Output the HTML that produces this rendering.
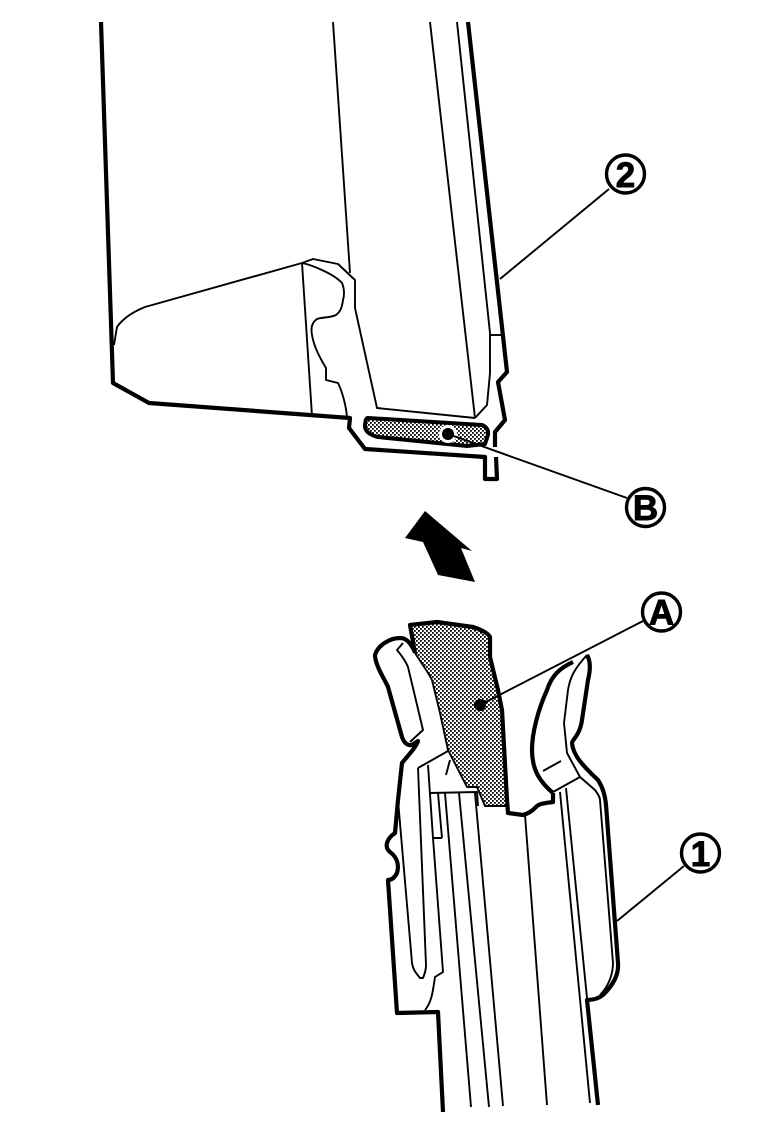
<!DOCTYPE html>
<html>
<head>
<meta charset="utf-8">
<style>
html,body{margin:0;padding:0;background:#fff;}
svg{display:block;}
text{font-family:"Liberation Sans",sans-serif;font-weight:bold;fill:#000;stroke:#000;stroke-width:0.9;text-anchor:middle;}
.k{fill:none;stroke:#000;stroke-width:4.2;stroke-linejoin:round;stroke-linecap:butt;}
.t{fill:none;stroke:#000;stroke-width:1.9;stroke-linejoin:round;}
.c{fill:#fff;stroke:#000;stroke-width:3.4;}
</style>
</head>
<body>
<svg width="768" height="1123" viewBox="0 0 768 1123" xmlns="http://www.w3.org/2000/svg">
<defs>
<pattern id="h" width="4" height="4" patternUnits="userSpaceOnUse">
<rect width="4" height="4" fill="#fff"/>
<rect x="0" y="0" width="1.8" height="1.8" fill="#000"/>
<rect x="2" y="2" width="1.8" height="1.8" fill="#000"/>
</pattern>
</defs>

<!-- TOP PART -->
<path class="k" d="M101,22 L113,383 L149,403 L350,418 L349,428 L365,449 L485,457 L485,479 L497,479 L496,457"/>
<path class="k" d="M495,447 L495,432 L505,420 L498,382 L507,372 L468,22"/>
<path class="t" d="M333,22 L350,273"/>
<path class="t" d="M430,22 L475,418"/>
<path class="t" d="M457,22 L490,333 L490,373 L487,405 L475,418"/>
<path class="t" d="M490,335 L501,335"/>
<path class="t" d="M114,345 L117,327 C124,317 135,311 145,307 L302,263 L313,259 L338,264 L355,280 L355,308 L377,408 L475,418"/>
<path class="t" d="M302,263 L312,416"/>
<path class="t" d="M302,263 C312,265 334,274 342,283 C345,290 344,297 343,300 C342,308 340,312 336,315 C330,318 322,317 317,319 C311,323 311,330 312,335 C314,347 320,358 326,368 L326,380 L338,383 C342,391 346,405 347,417"/>
<path d="M368,418 L482,425 Q489,428 488,435 L485,444 L467,446 L378,437 Q366,434 365,427 Q365,418 368,418 Z" fill="url(#h)" stroke="#000" stroke-width="4" stroke-linejoin="round"/>

<!-- TOP LEADERS -->
<path class="t" d="M500,279 L609,189"/>
<circle cx="448" cy="434" r="9" fill="#fff"/>
<path class="t" d="M448,434 L627,498"/>
<circle cx="448" cy="434" r="6" fill="#000"/>

<!-- ARROW -->
<polygon points="425,511 472,551 461,548 475,582 438,575 423,542 405,538" fill="#000"/>

<!-- LOWER PART hatch -->
<path d="M410,625 L437,622 L473,627 L490,637 L490,657 L498,690 L502,710 L507,806 L485,806 L477,787 L467,787 L448,750 L440,713 L432,680 L415,653 Z" fill="url(#h)"/>
<path class="t" d="M415,653 C422,664 428,672 432,680 L440,713 L448,750 L467,787 L477,787 L485,806 L507,806"/>
<path class="k" d="M415,653 L410,625 L437,622 L473,627 C482,630 488,633 490,637 L490,657 L498,690 L502,710 L507,800 L508,813 L523,815 C530,813 533,810 537,806 C541,803 547,803 553,802 L553,793"/>

<!-- Left clip -->
<path class="k" d="M415,652 C410,642 406,638 400,638 C390,638 378,645 375,655 C375,665 385,680 388,687 L402,737 C404,743 408,746 412,745 L418,741 C416,747 411,752 402,763 L398,800 L395,833 C385,840 385,848 390,852 C398,858 399,866 397,873 C395,877 392,880 388,880 L397,1013 L438,1012 L443,1112"/>
<path class="t" d="M403,643 L397,650 C402,656 406,662 408,667 L423,730 L410,742"/>
<path class="t" d="M418,768 L448,751 M428,765 L433,838 L442,838 M433,838 L443,972 L435,977 C433,990 432,1002 425,1010 M446,775 L450,760"/>
<path class="t" d="M430,793 L477,792 L478,806"/>
<path class="t" d="M438,793 L442,838 M445,793 L471,1107 M459,793 L489,1107 M475,793 L503,1106"/>
<path class="t" d="M398,800 L412,963 C413,970 416,973 420,978 L423,978 C425,973 426,970 426,965 L418,768"/>
<path class="t" d="M525,815 L547,1105"/>

<!-- Right piece -->
<path class="k" d="M573,662 C560,668 552,675 547,690 C538,710 532,733 532,750 C532,770 540,782 553,793"/>
<path class="k" d="M587,655 C590,660 591,668 588,680 L582,720 C580,735 572,740 572,743 C573,755 582,765 598,780 C603,788 605,795 606,805 L618,963 C619,975 613,985 603,995 C598,999 592,1000 587,1000 L598,1105"/>
<path class="t" d="M587,655 C575,668 570,677 568,690 L564,723 L567,753 L580,777 L553,792"/>
<path class="t" d="M580,777 L595,790 C598,794 600,797 600,800 L613,963 C613,975 608,987 600,995"/>
<path class="t" d="M543,771 L561,761"/>
<path class="t" d="M560,792 L590,1103 M566,788 L587,998"/>

<!-- LOWER LEADERS -->
<path class="t" d="M480,705 L643,621"/>
<circle cx="480" cy="705" r="6" fill="#000"/>
<path class="t" d="M617,921 L684,866"/>

<!-- LABELS -->
<circle class="c" cx="625.5" cy="174" r="19"/>
<text x="625.5" y="187" font-size="35">2</text>
<circle class="c" cx="645.5" cy="507.5" r="19"/>
<text x="645.5" y="520" font-size="35">B</text>
<circle class="c" cx="661.5" cy="612" r="19"/>
<text x="661.5" y="624.5" font-size="35">A</text>
<circle class="c" cx="700.5" cy="853" r="19"/>
<text x="700.5" y="866" font-size="35">1</text>
</svg>
</body>
</html>
